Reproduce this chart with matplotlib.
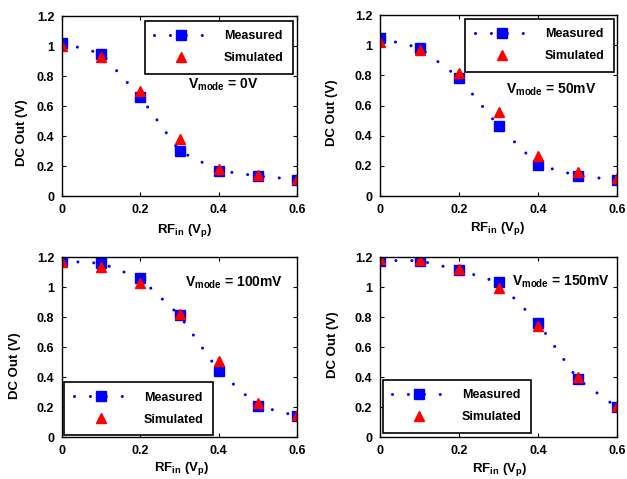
import matplotlib
matplotlib.use("Agg")
import matplotlib.pyplot as plt

plt.rcParams['font.family'] = ['Liberation Sans', 'DejaVu Sans']
plt.rcParams['font.weight'] = 'bold'
plt.rcParams['font.size'] = 9
plt.rcParams['mathtext.fontset'] = 'custom'
plt.rcParams['mathtext.rm'] = 'Liberation Sans:bold'
plt.rcParams['mathtext.it'] = 'Liberation Sans:bold'
plt.rcParams['mathtext.bf'] = 'Liberation Sans:bold'
plt.rcParams['mathtext.default'] = 'bf'

rf_in = [0, 0.1, 0.2, 0.3, 0.4, 0.5, 0.6]

meas_0 = [1.02, 0.95, 0.66, 0.30, 0.17, 0.133, 0.11]
sim_0 = [1.0, 0.93, 0.70, 0.378, 0.18, 0.138, 0.115]

meas_50 = [1.045, 0.983, 0.785, 0.464, 0.205, 0.135, 0.106]
sim_50 = [1.023, 0.968, 0.818, 0.559, 0.265, 0.161, 0.122]

meas_100 = [1.173, 1.158, 1.058, 0.811, 0.44, 0.207, 0.14]
sim_100 = [1.167, 1.136, 1.029, 0.818, 0.507, 0.224, 0.147]

meas_150 = [1.176, 1.176, 1.113, 1.031, 0.762, 0.387, 0.198]
sim_150 = [1.19, 1.18, 1.12, 0.991, 0.742, 0.402, 0.207]

panels = [
    (meas_0, sim_0, '0V'),
    (meas_50, sim_50, '50mV'),
    (meas_100, sim_100, '100mV'),
    (meas_150, sim_150, '150mV'),
]

W, H = 627, 479
# axes boxes in pixels: left, top, right, bottom
boxes = [(62, 16, 297, 196), (380, 15, 617, 196),
         (62, 257, 297, 437), (380, 257, 617, 437)]
leg_loc = ['upper right', 'upper right', 'lower left', 'lower left']
leg_anchor = [(0.983, 0.972), (0.987, 0.978), (0.01, 0.011), (0.011, 0.024)]
note_xy = [(0.536, 0.617), (0.532, 0.586), (0.523, 0.856), (0.556, 0.863)]
ylab_xy = [(-0.171, 0.35), (-0.204, 0.46), (-0.2, 0.394), (-0.197, 0.511)]
xlab_xy = [(0.523, -0.189), (0.498, -0.178), (0.509, -0.174), (0.506, -0.179)]

fig = plt.figure(figsize=(W / 100, H / 100), dpi=100)

for i, (meas, sim, vmode) in enumerate(panels):
    l, t, r, b = boxes[i]
    ax = fig.add_axes([l / W, 1 - b / H, (r - l) / W, (b - t) / H])
    ax.plot(rf_in, meas, color='blue', lw=2.2, linestyle=(0, (0.01, 5.2)),
            dash_capstyle='round', marker='s', ms=7, label='Measured')
    ax.plot(rf_in, sim, color='red', ls='none', marker='^', ms=7.5,
            label='Simulated')
    ax.set_xlim(0, 0.6)
    ax.set_ylim(0, 1.2)
    ax.set_xticks([0, 0.2, 0.4, 0.6])
    ax.set_yticks([0, 0.2, 0.4, 0.6, 0.8, 1.0, 1.2])
    ax.set_xticklabels(['0', '0.2', '0.4', '0.6'])
    ax.set_yticklabels(['0', '0.2', '0.4', '0.6', '0.8', '1', '1.2'])
    ax.tick_params(direction='in', length=3, width=0.8, top=True, right=True,
                   labelsize=9, pad=5.5)
    for s in ax.spines.values():
        s.set_linewidth(1.0)
    ax.text(ylab_xy[i][0], ylab_xy[i][1], 'DC Out (V)', rotation=90,
            ha='center', va='center', transform=ax.transAxes, fontsize=9.5)
    ax.text(xlab_xy[i][0], xlab_xy[i][1], r'RF$_{in}$ (V$_{p}$)',
            ha='center', va='center', transform=ax.transAxes, fontsize=9.5)
    ax.text(note_xy[i][0], note_xy[i][1], r'V$_{mode}$ = ' + vmode,
            ha='left', va='center', transform=ax.transAxes, fontsize=10)
    leg = ax.legend(loc=leg_loc[i], bbox_to_anchor=leg_anchor[i],
                    borderaxespad=0, fancybox=False, framealpha=1,
                    edgecolor='black', handlelength=4.3, handletextpad=1.3,
                    labelspacing=0.8, borderpad=0.75, numpoints=1,
                    fontsize=9)
    leg.get_frame().set_linewidth(1.2)

fig.savefig('out.png', dpi=100)
